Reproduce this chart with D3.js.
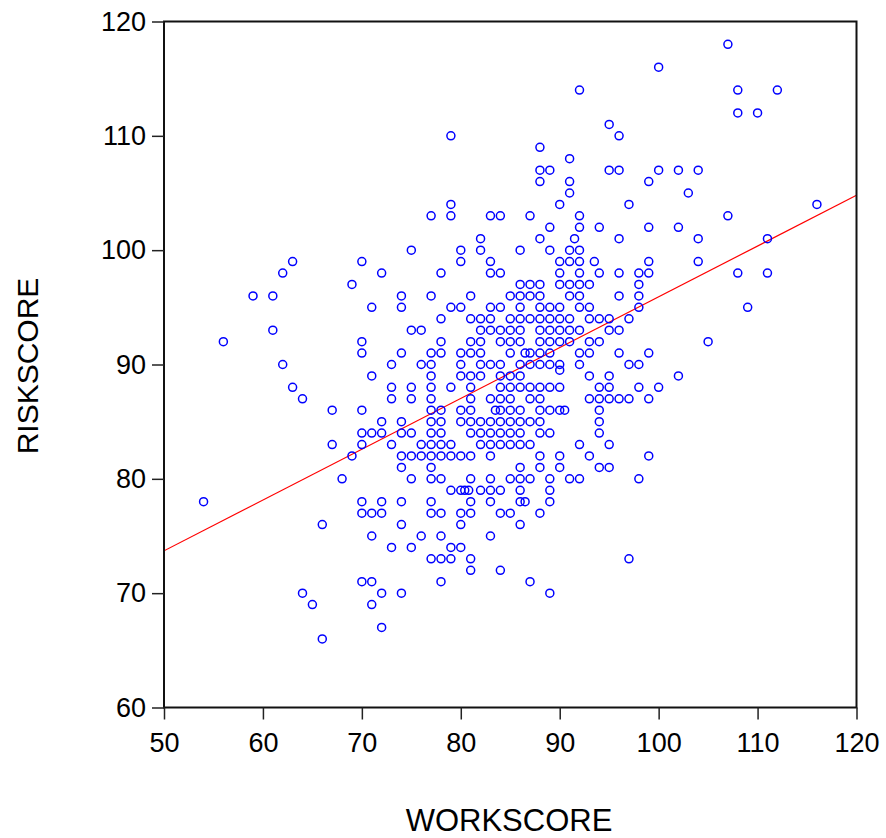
<!DOCTYPE html>
<html>
<head>
<meta charset="utf-8">
<script src="https://cdn.jsdelivr.net/npm/d3@7"></script>
<style>
  html, body { margin: 0; padding: 0; background: #fff; }
  svg { display: block; }
  text { font-family: "Liberation Sans", Arial, sans-serif; }
</style>
</head>
<body>
<svg id="chart" width="886" height="838"></svg>
<script>
// ---- data: [WORKSCORE, RISKSCORE] pairs ----
const workscore = [
  54,56,59,61,61,62,62,63,63,64,64,65,66,66,67,67,68,69,69,
  70,70,70,70,70,70,70,70,70,
  71,71,71,71,71,71,71,
  72,72,72,72,72,72,72,
  73,73,73,73,73,
  74,74,74,74,74,74,74,74,74,74,
  // y 105..90
  91,
  79,90,97,
  77,79,83,84,87,92,
  89,92,94,
  82,88,91.5,96,
  75,80,82,86,89,91,92,
  80,83,90,91,92,93.5,
  78,83,84,90,92,94,96,
  86,87,88,90,91,92,93,
  77,81,85,86,87,88,91,92,96,
  79,80,83,84,86,88,89,90,92,93,
  78,81,82,83,85,86,87,88,89,90,91,93,94,95,97,
  75,76,82,83,84,85,86,88,89,90,91,92,95,96,
  78,81,82,84,85,86,88,89,90,91,93,94,
  77,78,80,81,82,85,86.5,87,88,89,92,93,96,
  76,77,80,82,83,84,86,87,88,89,90,92,97,
  // y 89.5..70
  90,
  77,80,81,82,84,85,86,93,95,
  75,77,79,81,84,85,86,87,88,89,90,94,95,
  75,77,81,83,84,85,87,88,93,94,95,96,97,
  77,78,80,81,83.5,84,85,86,88,89,90,90.5,94,
  77,78,80,81,82,83,84,85,86,87,88,94,
  75,77,78,81,82,83,84,85,86,88,89,94,
  76,77,78,79,82,83,84,85,86,87,92,95,
  75,76,77,78,79,80,81,83,88,90,93,
  77,86,88,90,94,95,
  75,77,78,81,83,85,86,87,89,91,92,
  79,80,80.4,80.8,82,83,84,86,89,
  77,81,83,86,86.5,89,
  77,78,80,81,84,85,88,
  80,86,
  76,78,83,
  75,79,80,
  77,78,79,81,97,
  81,84,
  78,87,
  89,
  // upper and right
  79,88,91,88,89,95,96,88,91,95,96,92,
  107,100,108,112,108,110,100,102,104,99,103,116,
  107,99,102,104,111,99,104,98,99,108,111,98,98,98,109,105,99,98,
  102,98,100,99,99,98
];
const riskscore = [
  78,92,96,96,93,98,90,99,88,87,70,69,76,66,86,83,80,97,82,
  99,92,91,86,84,83,78,77,71,
  95,89,84,77,75,71,69,
  98,85,84,78,77,70,67,
  90,88,87,83,74,
  96,95,91,85,84,82,81,78,76,70,
  105,
  104,104,104,
  103,103,103,103,103,103,
  102,102,102,
  101,101,101,101,
  100,100,100,100,100,100,100,
  99,99,99,99,99,99,
  98,98,98,98,98,98,98,
  97,97,97,97,97,97,97,
  96,96,96,96,96,96,96,96,96,
  95,95,95,95,95,95,95,95,95,95,
  94,94,94,94,94,94,94,94,94,94,94,94,94,94,94,
  93,93,93,93,93,93,93,93,93,93,93,93,93,93,
  92,92,92,92,92,92,92,92,92,92,92,92,
  91,91,91,91,91,91,91,91,91,91,91,91,91,
  90,90,90,90,90,90,90,90,90,90,90,90,90,
  89.5,
  89,89,89,89,89,89,89,89,89,
  88,88,88,88,88,88,88,88,88,88,88,88,88,
  87,87,87,87,87,87,87,87,87,87,87,87,87,
  86,86,86,86,86,86,86,86,86,86,86,86,86,
  85,85,85,85,85,85,85,85,85,85,85,85,
  84,84,84,84,84,84,84,84,84,84,84,84,
  83,83,83,83,83,83,83,83,83,83,83,83,
  82,82,82,82,82,82,82,82,82,82,82,
  81,81,81,81,81,81,
  80,80,80,80,80,80,80,80,80,80,80,
  79,79,79,79,79,79,79,79,79,
  78,78,78,78,78,78,
  77,77,77,77,77,77,77,
  76,76,
  75,75,75,
  74,74,74,
  73,73,73,73,73,
  72,72,
  71,71,
  70,
  110,109,108,107,107,107,107,106,106,111,110,114,
  118,116,114,114,112,112,107,107,107,106,105,104,
  103,102,102,101,101,99,99,98,98,98,98,97,96,95,95,92,91,90,
  89,88,88,87,82,80
];

// fitted regression line: RISKSCORE = a + b*WORKSCORE
const fitIntercept = 51.49;
const fitSlope = 0.4443;

const xTicks = [50, 60, 70, 80, 90, 100, 110, 120];
const yTicks = [60, 70, 80, 90, 100, 110, 120];
const xTitle = "WORKSCORE";
const yTitle = "RISKSCORE";

// ---- drawing ----
const svg = d3.select("#chart");
const pLeft = 164, pRight = 856.5, pTop = 21.5, pBottom = 707.5;

const x = d3.scaleLinear().domain([50, 120]).range([pLeft, pRight]);
const y = d3.scaleLinear().domain([60, 120]).range([pBottom, pTop]);

const n = Math.min(workscore.length, riskscore.length);
const points = d3.range(n).map(i => ({ w: workscore[i], r: riskscore[i] }));

svg.append("defs").append("clipPath").attr("id", "clip")
  .append("rect").attr("x", pLeft).attr("y", pTop)
  .attr("width", pRight - pLeft).attr("height", pBottom - pTop);

svg.append("line")
  .attr("clip-path", "url(#clip)")
  .attr("x1", x(50)).attr("y1", y(fitIntercept + fitSlope * 50))
  .attr("x2", x(120)).attr("y2", y(fitIntercept + fitSlope * 120))
  .attr("stroke", "#ff0000").attr("stroke-width", 1.2);

svg.append("g").selectAll("circle").data(points).join("circle")
  .attr("cx", d => x(d.w)).attr("cy", d => y(d.r))
  .attr("r", 4)
  .attr("fill", "none")
  .attr("stroke", "#0000ff")
  .attr("stroke-width", 1.5);

svg.append("rect")
  .attr("x", pLeft).attr("y", pTop)
  .attr("width", pRight - pLeft).attr("height", pBottom - pTop)
  .attr("fill", "none").attr("stroke", "#111").attr("stroke-width", 2);

const xAxis = svg.append("g")
  .attr("transform", `translate(0,${pBottom})`)
  .call(d3.axisBottom(x).tickValues(xTicks).tickSize(12).tickPadding(13).tickFormat(d3.format("d")));
const yAxis = svg.append("g")
  .attr("transform", `translate(${pLeft},0)`)
  .call(d3.axisLeft(y).tickValues(yTicks).tickSize(12).tickPadding(6).tickFormat(d3.format("d")));

[xAxis, yAxis].forEach(g => {
  g.select(".domain").remove();
  g.selectAll(".tick line").attr("stroke", "#222").attr("stroke-width", 1.5);
  g.selectAll(".tick text")
    .attr("fill", "#000")
    .style("font-family", '"Liberation Sans", Arial, sans-serif')
    .style("font-size", "27px");
});

svg.append("text")
  .attr("x", 509).attr("y", 831)
  .attr("text-anchor", "middle")
  .style("font-size", "31px")
  .attr("fill", "#000")
  .text(xTitle);

svg.append("text")
  .attr("transform", "translate(38,366) rotate(-90)")
  .attr("text-anchor", "middle")
  .style("font-size", "30px")
  .attr("fill", "#000")
  .text(yTitle);
</script>
</body>
</html>
